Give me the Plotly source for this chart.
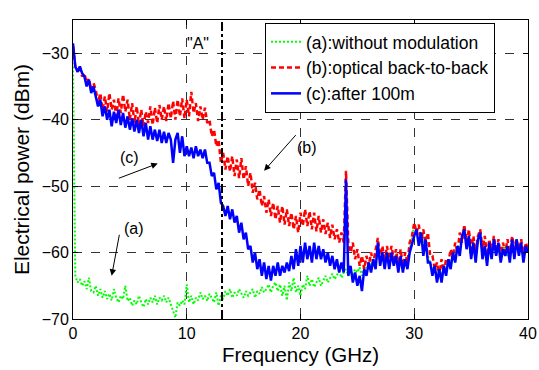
import plotly.graph_objects as go

# Frequency grid (GHz), 0.2 GHz steps
FREQ = [round(i * 0.2, 1) for i in range(201)]

# (a) without modulation
P_A = [-32.0, -63.5, -64.5, -64.0, -65.0, -64.3, -65.5, -63.8, -65.8, -66.0,
       -65.0, -66.5, -65.5, -66.8, -65.8, -67.0, -66.2, -67.2, -65.5, -66.8,
       -67.5, -66.5, -67.0, -65.0, -67.3, -66.8, -68.0, -67.2, -67.8, -66.5,
       -67.5, -68.2, -67.0, -67.8, -66.8, -67.5, -66.5, -67.8, -66.8, -67.2,
       -66.5, -67.5, -66.8, -67.8, -68.5, -69.8, -67.5, -68.0, -67.2, -67.8,
       -64.8, -67.5, -66.5, -67.8, -66.8, -67.2, -66.0, -67.0, -66.5, -67.3,
       -66.2, -66.8, -67.5, -66.0, -68.0, -66.5, -67.0, -65.8, -66.5, -65.5,
       -66.8, -66.0, -66.5, -65.5, -66.2, -66.8, -65.8, -66.5, -66.0, -65.5,
       -66.8, -65.8, -66.2, -65.2, -66.0, -65.5, -64.8, -66.0, -65.0, -64.5,
       -65.8, -64.8, -66.5, -65.0, -67.2, -64.5, -65.8, -63.8, -66.0, -65.0,
       -66.5, -64.8, -65.5, -63.5, -65.0, -64.0, -65.2, -64.5, -63.8, -65.0,
       -64.2, -63.5, -64.5, -63.8, -63.2, -64.0, -63.5, -62.8, -63.8, -63.0,
       -62.5, -63.5, -62.8, -63.2, -62.5, -63.0, -62.2, -63.5, -62.0, -62.8,
       -61.5, -62.0, -61.0, -61.8, -60.5, -61.0, -60.2, -61.5, -60.0, -61.2,
       -60.5, -61.5, -60.3, -62.0, -60.8, -62.3, -61.0, -61.5, -59.5, -58.0,
       -55.8, -56.5, -58.2, -57.0, -59.0, -57.5, -60.5, -61.5, -62.5, -62.0,
       -63.5, -62.5, -63.5, -62.0, -62.5, -61.0, -61.5, -60.0, -60.5, -59.0,
       -59.5, -57.2, -56.5, -58.5, -57.5, -60.0, -58.5, -60.5, -58.2, -56.8,
       -60.0, -59.0, -61.0, -58.8, -60.0, -58.2, -59.8, -58.8, -60.8, -59.5,
       -59.0, -60.5, -59.8, -58.0, -60.0, -58.2, -59.8, -58.8, -60.8, -59.2,
       -59.8]

# (b) optical back-to-back
P_B = [-29.0, -32.0, -32.8, -32.0, -33.5, -33.0, -34.5, -33.8, -35.5, -34.5,
       -35.5, -37.5, -36.0, -38.5, -36.5, -38.8, -36.0, -38.5, -37.0, -39.5,
       -36.8, -39.0, -36.2, -38.8, -37.0, -40.0, -37.5, -40.5, -38.0, -40.8,
       -38.5, -41.0, -38.8, -40.5, -38.0, -40.8, -38.2, -40.5, -37.8, -40.0,
       -38.0, -40.2, -37.5, -39.8, -37.2, -40.0, -37.0, -39.5, -36.8, -39.8,
       -37.0, -39.5, -35.8, -39.0, -37.5, -40.2, -38.0, -40.0, -38.2, -40.5,
       -40.0, -42.5, -41.5, -44.0, -43.0, -46.5, -45.0, -47.5, -45.5, -47.8,
       -45.5, -48.5, -46.0, -48.8, -45.8, -49.0, -47.0, -50.0, -48.0, -51.0,
       -49.5, -52.0, -50.5, -53.0, -51.5, -54.0, -52.0, -54.5, -52.5, -55.0,
       -53.0, -55.5, -53.0, -55.8, -53.5, -56.0, -54.0, -56.5, -54.5, -57.0,
       -54.0, -56.0, -53.5, -56.0, -53.8, -56.5, -54.0, -56.8, -54.5, -57.0,
       -55.0, -57.2, -55.5, -57.8, -55.8, -58.0, -56.5, -58.5, -57.0, -58.5,
       -47.7, -58.5, -60.0, -58.5, -61.0, -59.5, -62.0, -60.5, -62.5, -60.5,
       -62.0, -60.0, -61.5, -59.5, -57.8, -61.0, -59.0, -61.5, -59.0, -61.0,
       -59.0, -61.0, -59.5, -62.0, -59.5, -62.0, -60.0, -61.5, -58.5, -57.5,
       -55.5, -57.0, -55.8, -58.5, -56.5, -59.0, -57.0, -60.5, -60.5, -62.5,
       -61.5, -63.5, -61.0, -63.0, -61.0, -61.5, -59.5, -60.5, -58.5, -60.0,
       -57.0, -58.5, -55.8, -58.5, -56.5, -59.5, -57.5, -60.0, -57.5, -56.5,
       -59.5, -57.5, -60.5, -58.0, -60.0, -57.5, -60.0, -58.0, -60.5, -58.5,
       -60.0, -58.0, -60.5, -57.5, -59.5, -58.0, -60.0, -58.0, -60.5, -58.5,
       -59.5]

# (c) after 100m
P_C = [-28.5, -32.0, -32.8, -32.0, -33.0, -33.5, -35.0, -34.0, -36.0, -35.0,
       -36.5, -38.0, -37.0, -39.5, -38.0, -40.0, -38.5, -41.0, -38.8, -40.5,
       -38.5, -40.8, -39.0, -41.2, -39.5, -41.5, -39.8, -41.8, -40.0, -42.0,
       -40.0, -42.5, -40.5, -43.0, -41.0, -43.0, -41.5, -43.2, -41.5, -43.5,
       -41.8, -43.5, -42.0, -43.0, -46.5, -43.0, -42.0, -45.0, -42.5, -45.5,
       -44.0, -45.5, -44.2, -45.8, -44.0, -45.5, -44.5, -45.8, -44.5, -46.5,
       -46.5, -48.5, -48.0, -50.5, -49.5, -52.5, -53.0, -54.5, -53.0, -55.0,
       -53.5, -55.5, -54.5, -57.0, -55.5, -58.0, -57.0, -59.5, -59.0, -61.5,
       -60.0, -62.5, -61.0, -63.5, -61.5, -64.0, -62.0, -64.2, -62.0, -63.5,
       -61.5, -63.5, -62.0, -63.0, -61.5, -62.8, -60.5, -62.5, -59.5, -62.0,
       -59.0, -61.5, -58.5, -61.0, -59.0, -61.5, -58.5, -61.0, -59.0, -61.0,
       -59.5, -61.5, -60.0, -62.0, -60.5, -62.5, -61.0, -63.0, -61.5, -63.0,
       -49.0, -63.5, -62.0, -64.5, -63.0, -65.0, -63.5, -65.8, -62.5, -63.5,
       -61.5, -63.0, -61.0, -62.5, -58.5, -62.0, -60.0, -62.5, -60.0, -62.5,
       -60.0, -62.0, -60.5, -63.0, -60.5, -63.0, -61.0, -62.5, -60.0, -58.5,
       -57.5, -56.5, -59.0, -57.0, -60.5, -58.0, -61.5, -61.5, -63.5, -62.0,
       -64.5, -62.5, -64.5, -62.0, -63.5, -61.0, -62.5, -60.0, -61.5, -59.0,
       -60.5, -57.5, -56.5, -59.5, -57.5, -61.0, -58.5, -61.5, -58.0, -57.0,
       -61.0, -59.0, -62.0, -58.5, -61.0, -58.0, -60.5, -58.5, -61.5, -59.5,
       -60.5, -59.0, -61.5, -58.0, -61.0, -58.0, -60.5, -58.5, -61.5, -59.0,
       -60.0]

NAMES = ["(a):without modulation", "(b):optical back-to-back", "(c):after 100m"]
MARKER_A = 13.1
X_TICKS = [0, 10, 20, 30, 40]
Y_TICKS = [-70, -60, -50, -40, -30]

FONT = "Liberation Sans, Arial, Helvetica, sans-serif"

fig = go.Figure()
fig.add_trace(go.Scatter(x=FREQ, y=P_A, mode="lines", name=NAMES[0],
                         line=dict(color="#00ff00", width=2, dash="2px,2px")))
fig.add_trace(go.Scatter(x=FREQ, y=P_B, mode="lines", name=NAMES[1],
                         line=dict(color="#ff0000", width=2.5, dash="5px,3px")))
fig.add_trace(go.Scatter(x=FREQ, y=P_C, mode="lines", name=NAMES[2],
                         line=dict(color="#0000ff", width=2.5)))

fig.add_shape(type="line", xref="x", yref="paper", x0=MARKER_A, x1=MARKER_A,
              y0=0, y1=1, line=dict(color="black", width=2, dash="dashdot"))

ann_font = dict(family=FONT, size=16, color="black")
fig.add_annotation(x=10.95, y=-28.5, text='"A"', showarrow=False, font=ann_font)
fig.add_annotation(x=5.0, y=-45.7, text="(c)", showarrow=False, font=ann_font)
fig.add_annotation(x=20.6, y=-44.2, text="(b)", showarrow=False, font=ann_font)
fig.add_annotation(x=5.4, y=-56.4, text="(a)", showarrow=False, font=ann_font)
arrow = dict(showarrow=True, arrowhead=2, arrowsize=1.3, arrowwidth=1,
             arrowcolor="black", axref="x", ayref="y", text="")
fig.add_annotation(x=7.45, y=-46.6, ax=3.9, ay=-48.9, **arrow)
fig.add_annotation(x=16.8, y=-47.7, ax=19.7, ay=-42.1, **arrow)
fig.add_annotation(x=3.4, y=-63.5, ax=4.1, ay=-57.1, **arrow)

axis_common = dict(showline=True, linecolor="black", linewidth=1, mirror="ticks",
                   ticks="inside", ticklen=5, tickcolor="black",
                   showgrid=True, gridcolor="#333333", gridwidth=1, griddash="dash",
                   zeroline=False, tickfont=dict(family=FONT, size=16, color="black"))

fig.update_layout(
    width=539, height=370,
    margin=dict(l=73, r=11, t=20, b=51),
    paper_bgcolor="white", plot_bgcolor="white",
    showlegend=True,
    legend=dict(x=0.422, y=0.99, xanchor="left", yanchor="top",
                bgcolor="white", bordercolor="black", borderwidth=1,
                font=dict(family=FONT, size=17.5, color="black"),
                tracegroupgap=0),
    xaxis=dict(range=[0, 40], tickvals=X_TICKS, automargin=False,
               title=dict(text="Frequency (GHz)", standoff=6,
                          font=dict(family=FONT, size=20.5, color="black")),
               **axis_common),
    yaxis=dict(range=[-70, -25], tickvals=Y_TICKS, automargin=False,
               title=dict(text="Electrical power (dBm)", standoff=6,
                          font=dict(family=FONT, size=21, color="black")),
               **axis_common),
)

fig.write_html("out.html", config={"displayModeBar": False},
               post_script="document.body.style.margin='0px';")
